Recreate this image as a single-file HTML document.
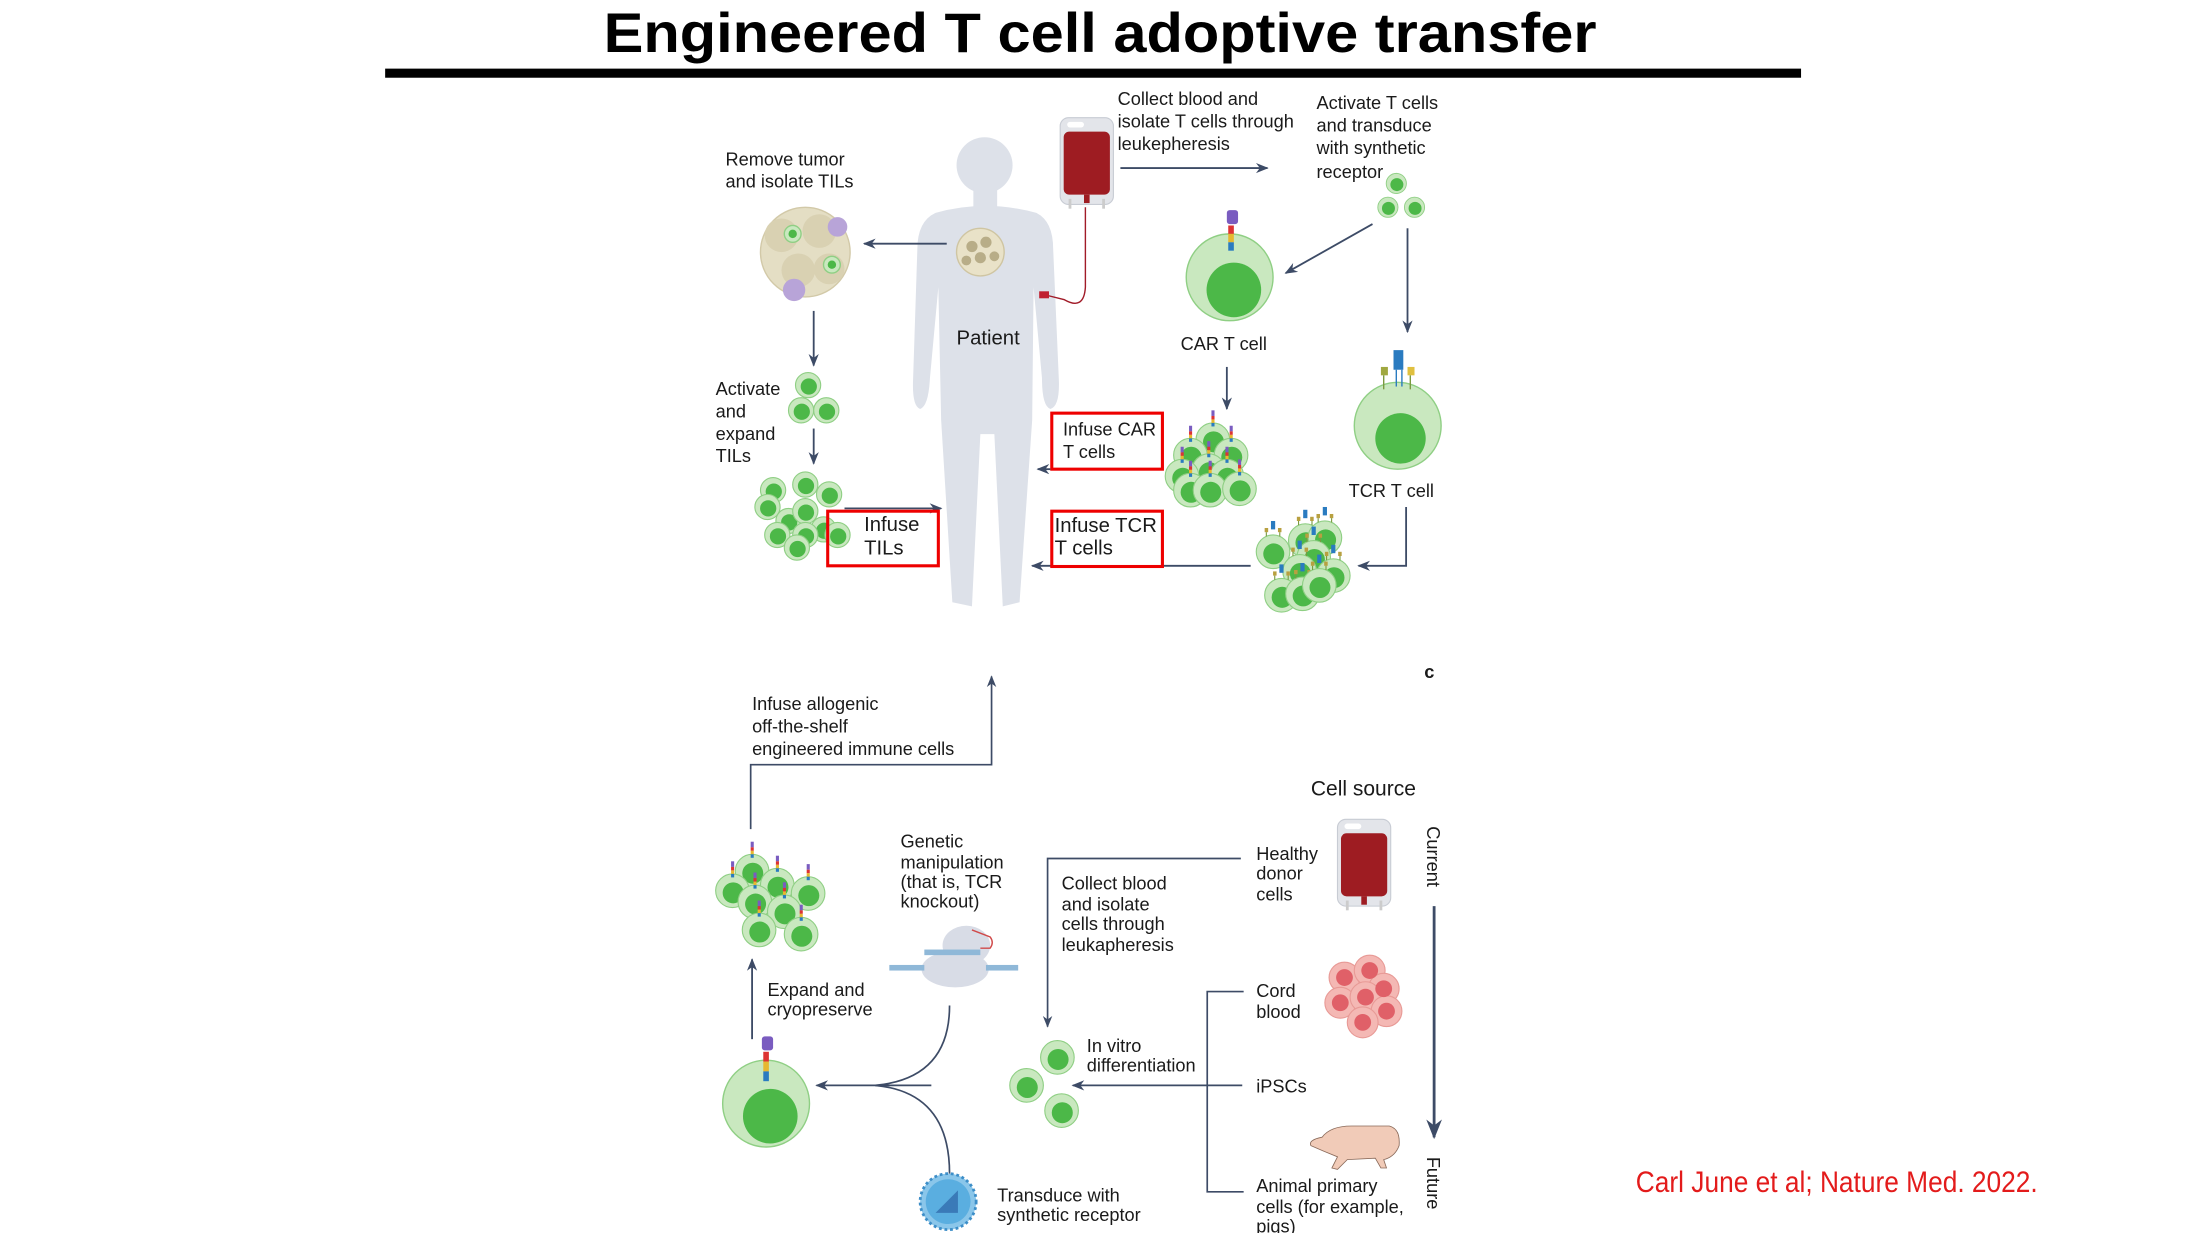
<!DOCTYPE html>
<html><head><meta charset="utf-8"><style>
html,body{margin:0;padding:0;background:#fff;width:2196px;height:1233px;overflow:hidden}
svg{display:block}
text{font-family:"Liberation Sans",Arial,sans-serif;fill:#1a1a1a}
</style></head><body>
<svg width="2196" height="1233" viewBox="0 0 1568 880.4" xmlns="http://www.w3.org/2000/svg">
<defs>
<marker id="ah" viewBox="0 0 10 10" refX="9" refY="5" markerWidth="7" markerHeight="7" orient="auto-start-reverse"><path d="M0,1 L10,5 L0,9 L3,5 z" fill="#3d4b66"/></marker>
<g id="sc"><circle r="9" fill="#c9e8bf" stroke="#8fcf84" stroke-width="0.8"/><circle cx="0.5" cy="1" r="5.8" fill="#4cb848"/></g>
<g id="mc"><circle r="12" fill="#c9e8bf" stroke="#8fcf84" stroke-width="0.8"/><circle cx="0.5" cy="1.5" r="7.5" fill="#4cb848"/></g>
<g id="car"><use href="#mc"/><rect x="-1" y="-21" width="2.2" height="4" fill="#7a5cc0"/><rect x="-1" y="-17" width="2.2" height="2.5" fill="#d33"/><rect x="-1" y="-14.5" width="2.2" height="2.5" fill="#e6b830"/><rect x="-1" y="-12" width="2.2" height="2.5" fill="#2a7bc0"/></g>
<g id="tcr"><use href="#mc"/><rect x="-1.5" y="-22" width="3" height="6" fill="#2a7bc0"/><rect x="-6" y="-17" width="2.5" height="3" fill="#b8a040"/><rect x="3.5" y="-17" width="2.5" height="3" fill="#b8a040"/><line x1="-4.8" y1="-14" x2="-4.8" y2="-11" stroke="#7a9a40" stroke-width="0.8"/><line x1="4.8" y1="-14" x2="4.8" y2="-11" stroke="#7a9a40" stroke-width="0.8"/></g>
<g id="bag"><rect x="0" y="0" width="38" height="62" rx="6" fill="#e3e5ea" stroke="#c8ccd4" stroke-width="0.8"/><rect x="5" y="3" width="12" height="4" rx="2" fill="#fff"/><rect x="2.5" y="10" width="33" height="45" rx="4" fill="#9e1c22"/><rect x="17" y="55" width="4" height="6" fill="#9e1c22"/><rect x="6" y="58" width="2" height="7" fill="#ccc"/><rect x="30" y="58" width="2" height="7" fill="#ccc"/></g>
</defs>

<!-- Title -->
<text x="785.5" y="37" font-size="40" font-weight="bold" text-anchor="middle" textLength="709" lengthAdjust="spacingAndGlyphs" style="fill:#000">Engineered T cell adoptive transfer</text>
<rect x="275" y="49" width="1011" height="6.5" fill="#000"/>

<!-- Patient silhouette -->
<g fill="#dde1e9">
<circle cx="703" cy="118" r="20"/>
<rect x="695" y="133" width="17" height="16"/>
<path d="M668,152 Q703,142 740,152 Q752,158 752,178 L756,270 Q757,290 750,292 Q744,290 744,270 L738,205 L737,300 L728,430 L716,433 L710,310 L700,310 L694,433 L680,430 L672,300 L670,205 L664,270 Q663,290 657,292 Q651,290 652,270 L655,178 Q655,158 668,152 z"/>
</g>
<text x="683" y="246" font-size="14.5">Patient</text>

<!-- Tumor in chest -->
<g><circle cx="700" cy="180" r="17" fill="#e9e2c8" stroke="#cfc5a2"/><circle cx="694" cy="176" r="4" fill="#b8ad88"/><circle cx="704" cy="173" r="4" fill="#b8ad88"/><circle cx="700" cy="184" r="4" fill="#b8ad88"/><circle cx="710" cy="183" r="3.5" fill="#b8ad88"/><circle cx="690" cy="186" r="3.5" fill="#b8ad88"/></g>

<!-- Removed tumor -->
<g>
<circle cx="575" cy="180" r="32" fill="#e4dec4" stroke="#d2c9a8"/>
<circle cx="558" cy="168" r="12" fill="#d9d1b2"/><circle cx="585" cy="165" r="12" fill="#d9d1b2"/><circle cx="570" cy="193" r="12" fill="#d9d1b2"/><circle cx="592" cy="192" r="11" fill="#d9d1b2"/>
<circle cx="566" cy="167" r="6" fill="#c9e8bf" stroke="#8fcf84"/><circle cx="566" cy="167" r="3" fill="#4cb848"/>
<circle cx="594" cy="189" r="6" fill="#c9e8bf" stroke="#8fcf84"/><circle cx="594" cy="189" r="3" fill="#4cb848"/>
<circle cx="598" cy="162" r="7" fill="#b8a4d8"/><circle cx="567" cy="207" r="8" fill="#b8a4d8"/>
</g>
<text font-size="13"><tspan x="518" y="118">Remove tumor</tspan><tspan x="518" y="134">and isolate TILs</tspan></text>
<line x1="676" y1="174" x2="617" y2="174" stroke="#3d4b66" stroke-width="1.3" marker-end="url(#ah)"/>
<line x1="581" y1="222" x2="581" y2="261" stroke="#3d4b66" stroke-width="1.3" marker-end="url(#ah)"/>
<text font-size="13"><tspan x="511" y="282">Activate</tspan><tspan x="511" y="298">and</tspan><tspan x="511" y="314">expand</tspan><tspan x="511" y="330">TILs</tspan></text>
<use href="#sc" x="577" y="275" transform=""/>
<use href="#sc" x="572" y="293"/><use href="#sc" x="590" y="293"/>
<line x1="581" y1="306" x2="581" y2="331" stroke="#3d4b66" stroke-width="1.3" marker-end="url(#ah)"/>
<!-- TIL cluster -->
<use href="#sc" x="552" y="350"/><use href="#sc" x="575" y="346"/><use href="#sc" x="592" y="353"/>
<use href="#sc" x="548" y="362"/><use href="#sc" x="563" y="372"/><use href="#sc" x="575" y="365"/><use href="#sc" x="588" y="378"/>
<use href="#sc" x="555" y="382"/><use href="#sc" x="575" y="382"/><use href="#sc" x="569" y="391"/><use href="#sc" x="598" y="382"/>
<line x1="603" y1="363" x2="672" y2="363" stroke="#3d4b66" stroke-width="1.3" marker-end="url(#ah)"/>
<rect x="591" y="365" width="79" height="39" fill="none" stroke="#e00" stroke-width="2.2"/>
<text font-size="14.5"><tspan x="617" y="379">Infuse</tspan><tspan x="617" y="396">TILs</tspan></text>

<!-- Blood bag & tube -->
<use href="#bag" x="757" y="84"/>
<path d="M775,148 L775,205 Q774,222 760,214 L748,211" fill="none" stroke="#a11b28" stroke-width="1"/>
<rect x="742" y="208" width="7" height="5" fill="#c02030"/>
<text font-size="13"><tspan x="798" y="75">Collect blood and</tspan><tspan x="798" y="91">isolate T cells through</tspan><tspan x="798" y="107">leukepheresis</tspan></text>
<line x1="800" y1="120" x2="905" y2="120" stroke="#3d4b66" stroke-width="1.3" marker-end="url(#ah)"/>
<text font-size="13"><tspan x="940" y="78">Activate T cells</tspan><tspan x="940" y="94">and transduce</tspan><tspan x="940" y="110">with synthetic</tspan><tspan x="940" y="127">receptor</tspan></text>
<g transform="translate(997,131) scale(0.8)"><use href="#sc"/></g>
<g transform="translate(991,148) scale(0.8)"><use href="#sc"/></g>
<g transform="translate(1010,148) scale(0.8)"><use href="#sc"/></g>
<line x1="980" y1="160" x2="918" y2="195" stroke="#3d4b66" stroke-width="1.3" marker-end="url(#ah)"/>
<line x1="1005" y1="163" x2="1005" y2="237" stroke="#3d4b66" stroke-width="1.3" marker-end="url(#ah)"/>

<!-- CAR T cell -->
<circle cx="878" cy="198" r="31" fill="#c9e8bf" stroke="#8fcf84"/>
<circle cx="881" cy="207" r="19.5" fill="#4cb848"/>
<rect x="876" y="150" width="8" height="10" rx="2" fill="#7a5cc0"/>
<rect x="877" y="161" width="4" height="6" fill="#d33"/><rect x="877" y="167" width="4" height="6" fill="#e6b830"/><rect x="877" y="173" width="4" height="6" fill="#2a7bc0"/>
<text x="843" y="250" font-size="13">CAR T cell</text>
<line x1="876" y1="262" x2="876" y2="292" stroke="#3d4b66" stroke-width="1.3" marker-end="url(#ah)"/>
<!-- CAR cluster -->
<use href="#car" x="866" y="314"/><use href="#car" x="850" y="325"/><use href="#car" x="879" y="325"/>
<use href="#car" x="863" y="336"/><use href="#car" x="844" y="340"/><use href="#car" x="876" y="340"/>
<use href="#car" x="850" y="350"/><use href="#car" x="864" y="350"/><use href="#car" x="885" y="349"/>
<rect x="751" y="295" width="79" height="40" fill="none" stroke="#e00" stroke-width="2.2"/>
<text font-size="13"><tspan x="759" y="311">Infuse CAR</tspan><tspan x="759" y="327">T cells</tspan></text>
<line x1="750" y1="335" x2="741" y2="335" stroke="#3d4b66" stroke-width="1.3" marker-end="url(#ah)"/>

<!-- TCR T cell -->
<circle cx="998" cy="304" r="31" fill="#c9e8bf" stroke="#8fcf84"/>
<circle cx="1000" cy="313" r="18" fill="#4cb848"/>
<rect x="995" y="250" width="7" height="14" fill="#2a7bc0"/>
<line x1="997" y1="264" x2="997" y2="276" stroke="#2a7bc0"/><line x1="1001" y1="264" x2="1001" y2="276" stroke="#2a7bc0"/>
<rect x="986" y="262" width="5" height="6" fill="#a0a840"/><rect x="1005" y="262" width="5" height="6" fill="#e0c040"/>
<line x1="988" y1="268" x2="988" y2="278" stroke="#7a9a40"/><line x1="1007" y1="268" x2="1007" y2="278" stroke="#7a9a40"/>
<text x="963" y="355" font-size="13">TCR T cell</text>
<polyline points="1004,362 1004,404 970,404" fill="none" stroke="#3d4b66" stroke-width="1.3" marker-end="url(#ah)"/>
<!-- TCR cluster -->
<use href="#tcr" x="909" y="394"/><use href="#tcr" x="932" y="386"/><use href="#tcr" x="946" y="384"/>
<use href="#tcr" x="938" y="398"/><use href="#tcr" x="928" y="408"/><use href="#tcr" x="952" y="411"/>
<use href="#tcr" x="915" y="425"/><use href="#tcr" x="930" y="424"/><use href="#tcr" x="942" y="418"/>
<line x1="893" y1="404" x2="737" y2="404" stroke="#3d4b66" stroke-width="1.3" marker-end="url(#ah)"/>
<rect x="751" y="365" width="79" height="39.5" fill="#fff" stroke="#e00" stroke-width="2.2"/>
<text font-size="14.5"><tspan x="753" y="380">Infuse TCR</tspan><tspan x="753" y="396">T cells</tspan></text>

<!-- Panel c -->
<text x="1017" y="484" font-size="13" font-weight="bold">c</text>
<text font-size="13"><tspan x="537" y="507">Infuse allogenic</tspan><tspan x="537" y="523">off-the-shelf</tspan><tspan x="537" y="539">engineered immune cells</tspan></text>
<polyline points="536,592 536,546 708,546 708,483" fill="none" stroke="#3d4b66" stroke-width="1.2" marker-end="url(#ah)"/>
<!-- cluster c -->
<use href="#car" x="537" y="622"/><use href="#car" x="523" y="636"/><use href="#car" x="555" y="632"/><use href="#car" x="577" y="638"/>
<use href="#car" x="539" y="644"/><use href="#car" x="560" y="651"/><use href="#car" x="542" y="664"/><use href="#car" x="572" y="667"/>
<line x1="537" y1="742" x2="537" y2="685" stroke="#3d4b66" stroke-width="1.3" marker-end="url(#ah)"/>
<text font-size="13"><tspan x="548" y="711">Expand and</tspan><tspan x="548" y="725">cryopreserve</tspan></text>
<circle cx="547" cy="788" r="31" fill="#c9e8bf" stroke="#8fcf84"/>
<circle cx="550" cy="797" r="19.5" fill="#4cb848"/>
<rect x="544" y="740" width="8" height="10" rx="2" fill="#7a5cc0"/>
<rect x="545" y="751" width="4" height="7" fill="#d33"/><rect x="545" y="758" width="4" height="7" fill="#e6b830"/><rect x="545" y="765" width="4" height="7" fill="#2a7bc0"/>
<text font-size="13"><tspan x="643" y="605">Genetic</tspan><tspan x="643" y="620">manipulation</tspan><tspan x="643" y="634">(that is, TCR</tspan><tspan x="643" y="648">knockout)</tspan></text>
<!-- CRISPR icon -->
<ellipse cx="690" cy="675" rx="17" ry="14" fill="#d8dce6"/>
<ellipse cx="682" cy="692" rx="24" ry="13" fill="#d8dce6"/>
<path d="M694,664 L707,669 Q710,673 707,677 L700,677" fill="none" stroke="#d04a4a" stroke-width="1"/>
<rect x="660" y="678" width="40" height="4" fill="#8fb8d8"/>
<rect x="635" y="689" width="25" height="4" fill="#8fb8d8"/><rect x="704" y="689" width="23" height="4" fill="#8fb8d8"/>
<path d="M678,718 Q678,770 625,775" fill="none" stroke="#3d4b66" stroke-width="1.2"/>
<path d="M678,838 Q678,780 625,775" fill="none" stroke="#3d4b66" stroke-width="1.2"/>
<line x1="665" y1="775" x2="583" y2="775" stroke="#3d4b66" stroke-width="1.3" marker-end="url(#ah)"/>
<!-- virus -->
<circle cx="677" cy="858" r="20" fill="#8ac6ea" stroke="#3d8ec8" stroke-width="2" stroke-dasharray="2 2"/>
<circle cx="677" cy="858" r="16" fill="#5aaee0"/>
<path d="M668,866 L684,850 L684,866 z" fill="#3a7ab8"/>
<text font-size="13"><tspan x="712" y="858">Transduce with</tspan><tspan x="712" y="872">synthetic receptor</tspan></text>
<text font-size="13"><tspan x="758" y="635">Collect blood</tspan><tspan x="758" y="650">and isolate</tspan><tspan x="758" y="664">cells through</tspan><tspan x="758" y="679">leukapheresis</tspan></text>
<polyline points="886,613 748,613 748,733" fill="none" stroke="#3d4b66" stroke-width="1.2" marker-end="url(#ah)"/>
<use href="#mc" x="755" y="755"/><use href="#mc" x="733" y="775"/><use href="#mc" x="758" y="793"/>
<text font-size="13"><tspan x="776" y="751">In vitro</tspan><tspan x="776" y="765">differentiation</tspan></text>
<line x1="887" y1="775" x2="766" y2="775" stroke="#3d4b66" stroke-width="1.3" marker-end="url(#ah)"/>
<polyline points="888,708 862,708 862,851 888,851" fill="none" stroke="#3d4b66" stroke-width="1.2"/>
<text x="936" y="568" font-size="15">Cell source</text>
<text font-size="13"><tspan x="897" y="614">Healthy</tspan><tspan x="897" y="628">donor</tspan><tspan x="897" y="643">cells</tspan></text>
<use href="#bag" x="955" y="585"/>
<text font-size="13"><tspan x="897" y="712">Cord</tspan><tspan x="897" y="727">blood</tspan></text>
<g fill="#f4b8b4" stroke="#e89a96" stroke-width="0.8">
<circle cx="960" cy="698" r="11"/><circle cx="978" cy="693" r="11"/><circle cx="988" cy="706" r="11"/><circle cx="957" cy="716" r="11"/><circle cx="975" cy="712" r="11"/><circle cx="990" cy="722" r="11"/><circle cx="973" cy="730" r="11"/>
</g>
<g fill="#e06068"><circle cx="960" cy="698" r="6"/><circle cx="978" cy="693" r="6"/><circle cx="988" cy="706" r="6"/><circle cx="957" cy="716" r="6"/><circle cx="975" cy="712" r="6"/><circle cx="990" cy="722" r="6"/><circle cx="973" cy="730" r="6"/></g>
<text x="897" y="780" font-size="13">iPSCs</text>
<!-- pig -->
<g fill="#f1cbb8" stroke="#8a6a5a" stroke-width="0.6">
<path d="M944,812 Q950,804 965,804 L992,804 Q1000,806 999,818 Q996,826 988,828 L990,834 L986,834 L982,827 L962,828 L955,835 L951,834 L955,826 Q945,822 936,818 Q934,814 944,812 z"/>
</g>
<text font-size="13"><tspan x="897" y="851">Animal primary</tspan><tspan x="897" y="866">cells (for example,</tspan><tspan x="897" y="880">pigs)</tspan></text>
<text font-size="13" transform="translate(1019,590) rotate(90)">Current</text>
<line x1="1024" y1="647" x2="1024" y2="812" stroke="#3d4b66" stroke-width="2" marker-end="url(#ah)"/>
<text font-size="13" transform="translate(1019,826) rotate(90)">Future</text>

<!-- citation -->
<text x="1168" y="851" font-size="21" textLength="287" lengthAdjust="spacingAndGlyphs" style="fill:#e31b1b">Carl June et al; Nature Med. 2022.</text>
</svg>
</body></html>
